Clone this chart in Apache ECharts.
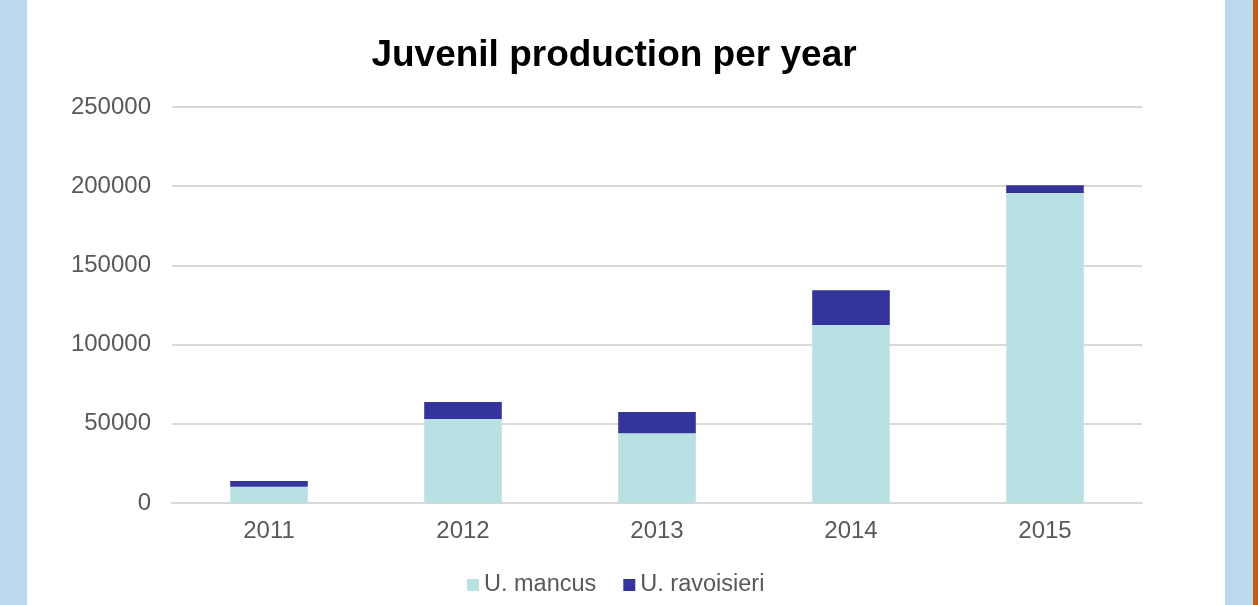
<!DOCTYPE html>
<html>
<head>
<meta charset="utf-8">
<script src="https://cdn.jsdelivr.net/npm/echarts@6/dist/echarts.min.js"></script>
<style>
html,body{margin:0;padding:0;background:#fff;}
#chart{width:1258px;height:605px;}
</style>
</head>
<body>
<div id="chart"></div>
<script>
var categories = ['2011', '2012', '2013', '2014', '2015'];
var mancus = [10300, 53000, 44000, 112400, 195700];
var ravoisieri = [3600, 10700, 13500, 21900, 4900];
var seriesNames = ['U. mancus', 'U. ravoisieri'];
var titleText = 'Juvenil production per year';

var chart = echarts.init(document.getElementById('chart'), null, {renderer: 'canvas'});
var font = 'Liberation Sans, Arial, sans-serif';
chart.setOption({
  backgroundColor: '#ffffff',
  animation: false,
  title: {
    text: titleText,
    left: 609, top: 32,
    textAlign: 'center',
    textStyle: {fontFamily: font, fontSize: 37, fontWeight: 'bold', color: '#000000'}
  },
  legend: {
    bottom: 8,
    left: 467,
    padding: 0,
    itemWidth: 12, itemHeight: 12, itemGap: 27,
    icon: 'rect',
    textStyle: {fontFamily: font, fontSize: 23.5, color: '#595959'},
    data: seriesNames
  },
  graphic: [
    {type: 'rect', shape: {x: 0, y: 0, width: 27, height: 605}, style: {fill: '#BDD7EE'}, silent: true},
    {type: 'rect', shape: {x: 1225, y: 0, width: 28, height: 605}, style: {fill: '#BDD7EE'}, silent: true},
    {type: 'rect', shape: {x: 1253, y: 0, width: 5, height: 605}, style: {fill: '#C55A11'}, silent: true}
  ],
  grid: {left: 172, right: 116, top: 107, bottom: 102, containLabel: false},
  xAxis: {
    type: 'category',
    data: categories,
    axisLine: {lineStyle: {color: '#D9D9D9', width: 2}},
    axisTick: {show: false},
    axisLabel: {fontFamily: font, fontSize: 24, color: '#595959', margin: 16}
  },
  yAxis: {
    type: 'value',
    min: 0, max: 250000, interval: 50000,
    axisLine: {show: false},
    axisTick: {show: false},
    splitLine: {lineStyle: {color: '#D9D9D9', width: 2}},
    axisLabel: {fontFamily: font, fontSize: 24, color: '#595959', margin: 21,
      formatter: function (v) { return String(v); }}
  },
  series: [
    {name: seriesNames[0], type: 'bar', stack: 'a', data: mancus, barWidth: '40%',
     itemStyle: {color: '#B9E0E3'}},
    {name: seriesNames[1], type: 'bar', stack: 'a', data: ravoisieri, barWidth: '40%',
     itemStyle: {color: '#35349B'}}
  ]
});
</script>
</body>
</html>
